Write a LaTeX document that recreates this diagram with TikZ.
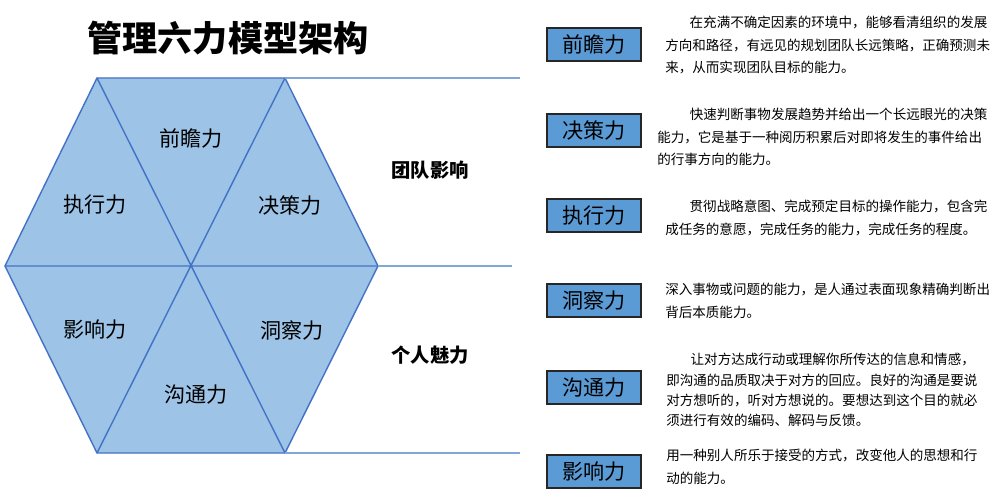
\documentclass[tikz,border=0pt]{standalone}
\usepackage{fontspec}
\setmainfont{Noto Sans CJK SC}
\begin{document}
\begin{tikzpicture}[x=0.02cm,y=-0.02cm,
  hexlab/.style={font=\fontsize{12pt}{14pt}\selectfont},
  capbox/.style={draw=black!85,line width=0.9pt,fill=boxblue,minimum width=94*0.02cm,minimum height=33*0.02cm,inner sep=0pt,font=\fontsize{12pt}{14pt}\selectfont},
  desc/.style={anchor=north west,align=left,inner sep=0pt,font=\fontsize{7.7pt}{12.8pt}\selectfont},
  grp/.style={font=\bfseries\fontsize{11pt}{13pt}\selectfont}]
\definecolor{hexfill}{HTML}{9DC3E6}
\definecolor{hexline}{HTML}{4472C4}
\definecolor{boxblue}{HTML}{5B9BD5}
\definecolor{guide}{HTML}{7FA7D8}
\useasboundingbox[fill=white] (0,0) rectangle (1000,493);
\coordinate (L) at (5,266); \coordinate (TL) at (97,78); \coordinate (TR) at (285,78);
\coordinate (R) at (378,266); \coordinate (BR) at (285,453); \coordinate (BL) at (97,453);
\coordinate (C) at (191,266);
\coordinate (g1) at (520,78); \coordinate (g2) at (512,266); \coordinate (g3) at (520,453);
\fill[hexfill] (L)--(TL)--(TR)--(R)--(BR)--(BL)--cycle;
\draw[hexline,line width=0.8pt] (L)--(TL)--(TR)--(R)--(BR)--(BL)--cycle;
\draw[hexline,line width=0.8pt] (L)--(R) (TL)--(BR) (TR)--(BL);
\draw[guide,line width=0.7pt] (TR)--(g1) (R)--(g2) (BR)--(g3);
\node[font=\bfseries\fontsize{20pt}{24pt}\selectfont] (title) at (228,38) {管理六力模型架构};
\node[hexlab] (h1) at (191,138) {前瞻力};
\node[hexlab] (h2) at (290,205) {决策力};
\node[hexlab] (h3) at (95,205) {执行力};
\node[hexlab] (h4) at (95,330) {影响力};
\node[hexlab] (h5) at (292,330) {洞察力};
\node[hexlab] (h6) at (196,395) {沟通力};
\node[grp] (g1l) at (430,170) {团队影响};
\node[grp] (g2l) at (430,355) {个人魅力};
\node[capbox] (b1) at (594,44.5) {前瞻力};
\node[capbox] (b2) at (594,130.5) {决策力};
\node[capbox] (b3) at (594,215.5) {执行力};
\node[capbox] (b4) at (594,300.5) {洞察力};
\node[capbox] (b5) at (594,387.5) {沟通力};
\node[capbox] (b6) at (594,471.5) {影响力};
\node[desc] (d1) at (665,16) {\hspace*{1.8em}在充满不确定因素的环境中，能够看清组织的发展\\方向和路径，有远见的规划团队长远策略，正确预测未\\来，从而实现团队目标的能力。};
\node[desc] (d2) at (657,108) {\hspace*{2.4em}快速判断事物发展趋势并给出一个长远眼光的决策\\能力，它是基于一种阅历积累后对即将发生的事件给出\\的行事方向的能力。};
\node[desc] (d3) at (665,200) {\hspace*{1.8em}贯彻战略意图、完成预定目标的操作能力，包含完\\成任务的意愿，完成任务的能力，完成任务的程度。};
\node[desc] (d4) at (665,283) {深入事物或问题的能力，是人通过表面现象精确判断出\\背后本质能力。};
\node[desc,font=\fontsize{7.7pt}{11.5pt}\selectfont] (d5) at (666,353) {\hspace*{1.8em}让对方达成行动或理解你所传达的信息和情感，\\即沟通的品质取决于对方的回应。良好的沟通是要说\\对方想听的，听对方想说的。要想达到这个目的就必\\须进行有效的编码、解码与反馈。};
\node[desc] (d6) at (666,449) {用一种别人所乐于接受的方式，改变他人的思想和行\\动的能力。};
\end{tikzpicture}
\end{document}
